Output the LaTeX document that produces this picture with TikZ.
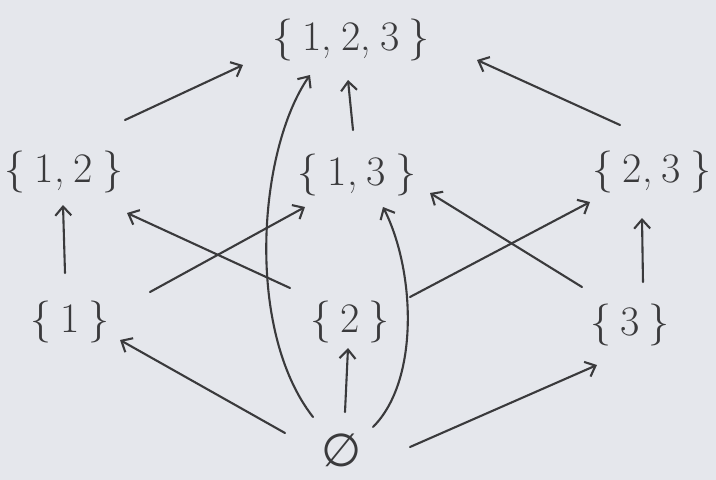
\documentclass[tikz,border=0pt]{standalone}
\usepackage{fontspec}
\newfontfamily\symfont{DejaVu Sans}
\usetikzlibrary{arrows.meta}
\definecolor{paper}{HTML}{E5E7EC}
\definecolor{ink}{HTML}{3A3A3C}
\newcommand{\gp}{\hspace{0.22em}}
\begin{document}
\begin{tikzpicture}[x=1pt,y=-1pt,
  setnode/.style={inner sep=0pt,text=ink,font=\fontsize{42}{46}\selectfont},
  arr/.style={draw=ink,line width=2.1pt,line cap=round,
    -{Straight Barb[length=9pt,width=16pt,line width=2.1pt]}}]
\fill[paper] (0,0) rectangle (716,480);
\useasboundingbox (0,0) rectangle (716,480);
\node[setnode] (t)   at (351,40)  {\{\gp1,\gp2,\gp3\gp\}};
\node[setnode] (a12) at (64,172)  {\{\gp1,\gp2\gp\}};
\node[setnode] (a13) at (357,175) {\{\gp1,\gp3\gp\}};
\node[setnode] (a23) at (652,172) {\{\gp2,\gp3\gp\}};
\node[setnode] (s1)  at (70,322)  {\{\gp1\gp\}};
\node[setnode] (s2)  at (350,322) {\{\gp2\gp\}};
\node[setnode] (s3)  at (630,325) {\{\gp3\gp\}};
\node[setnode,font=\fontsize{46}{50}\selectfont\symfont] (e) at (342,450) {∅};
% second row to top
\draw[arr] ([shift={(61,-52)}]a12.center) -- ([shift={(-108,25)}]t.center);
\draw[arr] ([shift={(-4,-45)}]a13.center) -- ([shift={(-3,40)}]t.center);
\draw[arr] ([shift={(-32,-47)}]a23.center) -- ([shift={(126,20)}]t.center);
% singletons to pairs
\draw[arr] ([shift={(-5,-49)}]s1.center) -- ([shift={(-1,33)}]a12.center);
\draw[arr] ([shift={(80,-30)}]s1.center) -- ([shift={(-52,32)}]a13.center);
\draw[arr] ([shift={(-60,-34)}]s2.center) -- ([shift={(63,41)}]a12.center);
\draw[arr] ([shift={(60,-25)}]s2.center) -- ([shift={(-62,30)}]a23.center);
\draw[arr] ([shift={(-48,-38)}]s3.center) -- ([shift={(73,18)}]a13.center);
\draw[arr] ([shift={(13,-43)}]s3.center) -- ([shift={(-10,46)}]a23.center);
% empty set to singletons
\draw[arr] ([shift={(-57,-17)}]e.center) -- ([shift={(50,18)}]s1.center);
\draw[arr] ([shift={(3,-38)}]e.center) -- ([shift={(-2,26)}]s2.center);
\draw[arr] ([shift={(68,-3)}]e.center) -- ([shift={(-33,40)}]s3.center);
% curved arrows
\draw[arr] ([shift={(-29,-33)}]e.center) .. controls (245,330) and (258,150) .. ([shift={(-41,35)}]t.center);
\draw[arr] ([shift={(31,-23)}]e.center) .. controls (420,380) and (415,270) .. ([shift={(26,32)}]a13.center);
\end{tikzpicture}
\end{document}
